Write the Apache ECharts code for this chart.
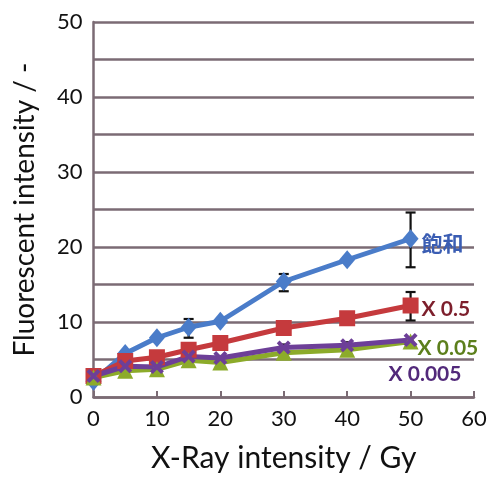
<!DOCTYPE html>
<html><head><meta charset="utf-8">
<script src="https://cdn.jsdelivr.net/npm/echarts@6/dist/echarts.min.js"></script>
<style>html,body{margin:0;padding:0;background:#fff}#c{width:491px;height:478px}</style>
</head><body><div id="c"></div>
<script>
var xDose = [0, 5, 10, 15, 20, 30, 40, 50];
var satValues = [2.1, 5.8, 7.9, 9.3, 10.1, 15.4, 18.3, 21.1];
var halfValues = [2.8, 4.8, 5.3, 6.3, 7.2, 9.2, 10.5, 12.2];
var x005Values = [2.6, 3.5, 3.7, 4.9, 4.6, 5.9, 6.3, 7.4];
var x0005Values = [2.8, 4.1, 4.0, 5.4, 5.2, 6.6, 6.9, 7.6];
var seriesNames = ['飽和', 'X 0.5', 'X 0.05', 'X 0.005'];
var errX = [15, 30, 50, 50, 30, 40];
var errLow = [7.9, 14.1, 17.3, 10.2, 6.2, 6.5];
var errHigh = [10.4, 16.4, 24.6, 14.0, 7.0, 7.3];
var xTicks = [0, 10, 20, 30, 40, 50, 60];
var yTicks = [0, 10, 20, 30, 40, 50];

function pairs(vals){ return xDose.map(function(x,i){ return [x, vals[i]]; }); }
var font = 'Lato, "Noto Sans CJK JP", sans-serif';
var gridColor = '#7b6b74';
var xPath = 'path://M0,2 L2,0 L5,3 L8,0 L10,2 L7,5 L10,8 L8,10 L5,7 L2,10 L0,8 L3,5 Z';

function lineSeries(name, vals, color, symbol, size, labelColor, labelOffset){
  var d = pairs(vals);
  var last = d.length - 1;
  return {
    name: name, type: 'line', data: d.map(function(p, i){
      var o = {value: p};
      if (i === last) {
        o.label = {show: true, formatter: name, position: 'right', distance: 3,
          offset: labelOffset, color: labelColor, fontSize: 21, fontWeight: 'bold', fontFamily: font};
      }
      return o;
    }),
    symbol: symbol, symbolSize: size, showAllSymbol: true,
    lineStyle: {color: color, width: 5},
    itemStyle: {color: color},
    emphasis: {disabled: true}, z: 3
  };
}

var chart = echarts.init(document.getElementById('c'));
chart.setOption({
  animation: false,
  grid: {left: 93.5, right: 17, top: 22, bottom: 74},
  xAxis: {
    type: 'value', min: 0, max: 60, interval: 10,
    name: 'X-Ray intensity / Gy', nameLocation: 'middle', nameGap: 46,
    nameTextStyle: {fontSize: 30, color: '#111', fontFamily: font},
    axisLine: {show: true, lineStyle: {color: gridColor, width: 2.5}},
    axisTick: {show: true, inside: true, length: 6, lineStyle: {color: gridColor, width: 2}},
    axisLabel: {fontSize: 22, color: '#111', fontFamily: font, margin: 11,
      formatter: function(v){ return xTicks.indexOf(v) >= 0 ? String(v) : ''; }},
    splitLine: {show: false}
  },
  yAxis: {
    type: 'value', min: 0, max: 50, interval: 5,
    name: 'Fluorescent intensity / -', nameLocation: 'middle', nameGap: 55,
    nameTextStyle: {fontSize: 28, color: '#111', fontFamily: font},
    axisLine: {show: true, lineStyle: {color: gridColor, width: 2.5}},
    axisTick: {show: false},
    axisLabel: {fontSize: 22, color: '#111', fontFamily: font, margin: 11,
      formatter: function(v){ return yTicks.indexOf(v) >= 0 ? String(v) : ''; }},
    splitLine: {show: true, lineStyle: {color: gridColor, width: 2.5}}
  },
  series: [
    {
      type: 'custom', z: 2,
      data: errX.map(function(x,i){ return [x, errLow[i], errHigh[i]]; }),
      renderItem: function(params, api){
        var lo = api.coord([api.value(0), api.value(1)]);
        var hi = api.coord([api.value(0), api.value(2)]);
        var w = 5;
        var st = {stroke: '#111', lineWidth: 2.2};
        return {type: 'group', children: [
          {type: 'line', shape: {x1: lo[0], y1: lo[1], x2: hi[0], y2: hi[1]}, style: st},
          {type: 'line', shape: {x1: lo[0]-w, y1: lo[1], x2: lo[0]+w, y2: lo[1]}, style: st},
          {type: 'line', shape: {x1: hi[0]-w, y1: hi[1], x2: hi[0]+w, y2: hi[1]}, style: st}
        ]};
      }
    },
    lineSeries(seriesNames[0], satValues, '#4a7cc9', 'diamond', [16, 19], '#3a5db3', [0, 5]),
    lineSeries(seriesNames[1], halfValues, '#c53a3d', 'rect', 16, '#7d1f2c', [0, 4]),
    lineSeries(seriesNames[2], x005Values, '#8cab2a', 'triangle', 16, '#5c7f1c', [-4, 7]),
    lineSeries(seriesNames[3], x0005Values, '#6d3f98', xPath, 14, '#52297a', [-32, 34])
  ]
});
</script></body></html>
